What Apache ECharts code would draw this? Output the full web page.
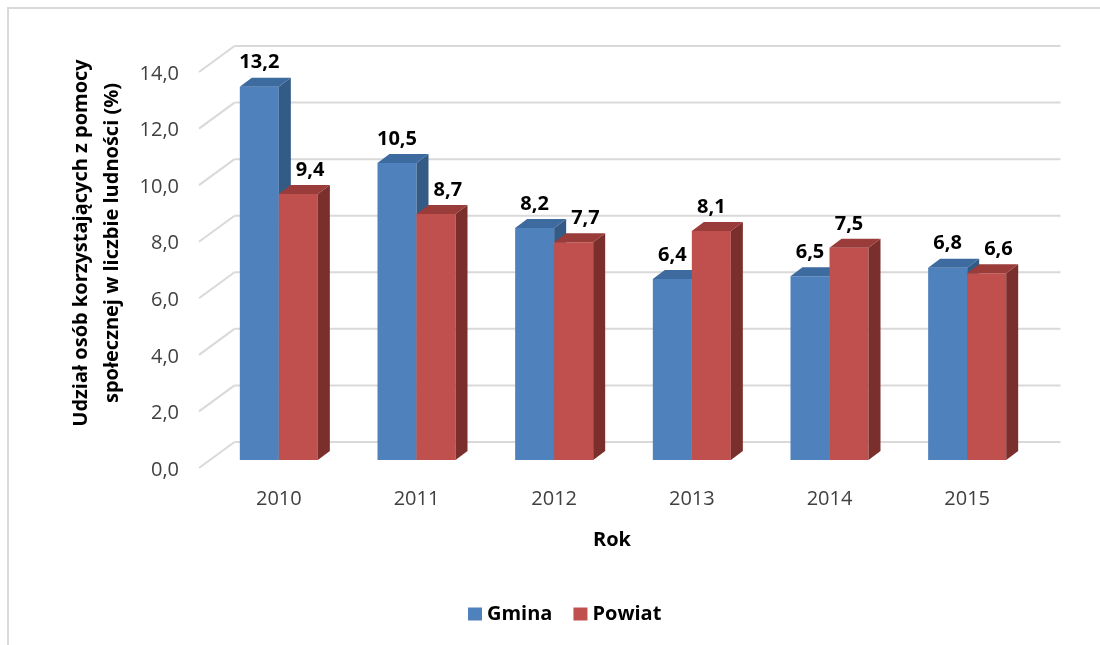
<!DOCTYPE html>
<html>
<head>
<meta charset="utf-8">
<script src="https://cdn.jsdelivr.net/npm/echarts@6/dist/echarts.min.js"></script>
<style>html,body{margin:0;padding:0;background:#fff}#c{width:1100px;height:645px}</style>
</head>
<body>
<div id="c"></div>
<script>
var years = ['2010', '2011', '2012', '2013', '2014', '2015'];
var gmina = [13.2, 10.5, 8.2, 6.4, 6.5, 6.8];
var powiat = [9.4, 8.7, 7.7, 8.1, 7.5, 6.6];
var yTicks = [0, 2, 4, 6, 8, 10, 12, 14];

var FONT = '"Open Sans", "Liberation Sans", sans-serif';
var DEPTH_X = 12, DEPTH_Y = -9;          // bar depth
var FRONT_DX = -11, FRONT_DY = 8;        // floor front edge relative to bar plane
var BACK_DX = 24.5, BACK_DY = -18;       // back wall relative to bar plane
var BAR_RATIO = 0.2834;

var colors = {
  Gmina: {front: '#4F81BD', top: '#3D6A9F', side: '#345A86'},
  Powiat: {front: '#C0504D', top: '#9A3C39', side: '#7B2F2D'}
};

var mctx = document.createElement('canvas').getContext('2d');
function textW(t) { mctx.font = 'bold 20px ' + FONT; return mctx.measureText(t).width; }
function fmt(v) { return v.toFixed(1).replace('.', ','); }

function barRender(name, values, side) {
  return function (params, api) {
    var i = api.value(0);
    var v = api.value(1);
    var top = api.coord([i, v]);
    var base = api.coord([i, 0]);
    var bw = api.size([1, 0])[0] * BAR_RATIO;
    var x0 = side < 0 ? top[0] - bw : top[0];
    var x1 = x0 + bw;
    var yt = top[1], yb = base[1];
    var c = colors[name];
    var children = [
      {type: 'rect', shape: {x: x0, y: yt, width: bw, height: yb - yt}, style: {fill: c.front}},
      {type: 'polygon', shape: {points: [[x1, yt], [x1 + DEPTH_X, yt + DEPTH_Y], [x1 + DEPTH_X, yb + DEPTH_Y], [x1, yb]]}, style: {fill: c.side}},
      {type: 'polygon', shape: {points: [[x0, yt], [x0 + DEPTH_X, yt + DEPTH_Y], [x1 + DEPTH_X, yt + DEPTH_Y], [x1, yt]]}, style: {fill: c.top}}
    ];
    var txt = fmt(v);
    var w = textW(txt);
    var lx = (x0 + x1) / 2;
    var ly = yt + DEPTH_Y - 15;
    if (side > 0) {
      // avoid the neighbouring Gmina bar
      var gTop = api.coord([i, gmina[i]])[1] + DEPTH_Y;
      var gRight = x0 + DEPTH_X;
      if (ly + 10 > gTop && lx - w / 2 < gRight + 5) lx = gRight + 5 + w / 2;
    }
    children.push({type: 'text', z2: 100, style: {text: txt, x: lx, y: ly, align: 'center', verticalAlign: 'middle', font: 'bold 20px ' + FONT, fill: '#000'}});
    return {type: 'group', children: children};
  };
}

function gridRender(params, api) {
  var cs = params.coordSys;
  var y = api.coord([0, api.value(1)])[1];
  var gx = cs.x, gw = cs.width;
  var st = {stroke: '#D9D9D9', lineWidth: 2, fill: null};
  return {type: 'group', children: [
    {type: 'line', shape: {x1: gx + FRONT_DX, y1: y + FRONT_DY, x2: gx + BACK_DX, y2: y + BACK_DY}, style: st},
    {type: 'line', shape: {x1: gx + BACK_DX, y1: y + BACK_DY, x2: gx + gw + BACK_DX, y2: y + BACK_DY}, style: st}
  ]};
}

var chart = echarts.init(document.getElementById('c'));
chart.setOption({
  backgroundColor: '#fff',
  animation: false,
  grid: {left: 210, right: 64, top: 64, bottom: 185},
  xAxis: {
    type: 'category', data: years,
    axisLine: {show: false}, axisTick: {show: false}, splitLine: {show: false},
    axisLabel: {fontSize: 20, fontFamily: FONT, color: '#404040', margin: 29}
  },
  yAxis: {
    type: 'value', min: 0, max: 14, interval: 2,
    axisLine: {show: false}, axisTick: {show: false}, splitLine: {show: false},
    axisLabel: {fontSize: 20, fontFamily: FONT, color: '#404040', margin: 31, verticalAlign: 'top', lineHeight: 20,
      formatter: function (v) { return fmt(v); }}
  },
  legend: {
    data: ['Gmina', 'Powiat'], left: 468, top: 604, padding: 0,
    icon: 'rect', itemWidth: 14, itemHeight: 13, itemGap: 21,
    textStyle: {fontSize: 20, fontWeight: 'bold', fontFamily: FONT, color: '#000'}
  },
  graphic: [
    {type: 'rect', shape: {x: 8, y: 8, width: 1200, height: 700}, style: {fill: null, stroke: '#D9D9D9', lineWidth: 2}, z: -1},
    {type: 'text', x: 97, y: 243, rotation: Math.PI / 2,
      style: {text: 'Udział osób korzystających z pomocy\nspołecznej w liczbie ludności (%)', align: 'center', verticalAlign: 'middle',
        font: 'bold 20px ' + FONT, lineHeight: 31, fill: '#000'}},
    {type: 'text', x: 612, y: 540, style: {text: 'Rok', align: 'center', verticalAlign: 'middle', font: 'bold 20px ' + FONT, fill: '#000'}}
  ],
  series: [
    {type: 'custom', name: 'grid', silent: true, renderItem: gridRender,
      data: yTicks.map(function (t) { return [0, t]; })},
    {type: 'custom', name: 'Gmina', itemStyle: {color: colors.Gmina.front}, renderItem: barRender('Gmina', gmina, -1),
      data: gmina.map(function (v, i) { return [i, v]; })},
    {type: 'custom', name: 'Powiat', itemStyle: {color: colors.Powiat.front}, renderItem: barRender('Powiat', powiat, 1),
      data: powiat.map(function (v, i) { return [i, v]; })}
  ]
});
</script>
</body>
</html>
